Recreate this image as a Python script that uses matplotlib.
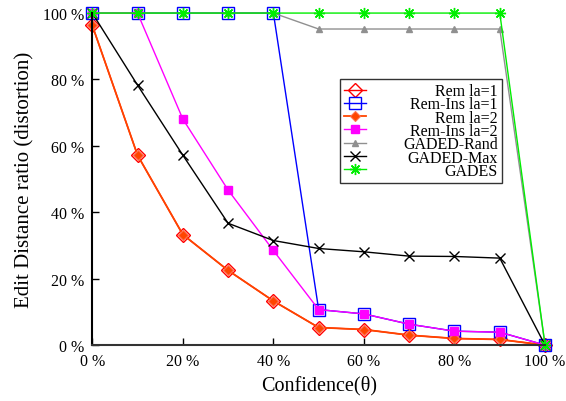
import matplotlib
matplotlib.use("Agg")
import matplotlib.pyplot as plt
from matplotlib.ticker import FuncFormatter

conf = [0, 10, 20, 30, 40, 50, 60, 70, 80, 90, 100]
rem_la1 = [96.3, 57.2, 33.3, 22.5, 13.3, 5.3, 4.7, 3.0, 2.0, 1.7, 0.0]
remins_la1 = [100, 100, 100, 100, 100, 10.7, 9.4, 6.3, 4.2, 3.9, 0.0]
rem_la2 = [96.3, 57.2, 33.3, 22.5, 13.3, 5.3, 4.7, 3.0, 2.0, 1.7, 0.0]
remins_la2 = [100, 100, 68.1, 46.7, 28.5, 10.7, 9.4, 6.3, 4.2, 3.9, 0.0]
gaded_rand = [100, 100, 100, 100, 100, 95.2, 95.2, 95.2, 95.2, 95.2, 0.0]
gaded_max = [100, 78.3, 57.2, 36.7, 31.5, 29.1, 28.1, 26.8, 26.7, 26.2, 0.0]
gades = [100, 100, 100, 100, 100, 100, 100, 100, 100, 100, 0.0]

labels = ["Rem la=1", "Rem-Ins la=1", "Rem la=2", "Rem-Ins la=2",
          "GADED-Rand", "GADED-Max", "GADES"]

plt.rcParams['font.family'] = ['Liberation Serif', 'DejaVu Serif']

fig = plt.figure(figsize=(5.66, 4.02), dpi=100)
ax = fig.add_axes([0.163, 0.139, 0.800, 0.826])

kw = dict(clip_on=False, lw=1.0)
ax.plot(conf, rem_la1, color='#ff0000', marker='D', ms=7, mfc='none', mew=1.0, label=labels[0], **kw)
ax.plot(conf, remins_la1, color='#0000ff', marker='s', ms=8, mfc='none', mew=1.0, label=labels[1], **kw)
ax.plot(conf, rem_la2, color='#ff4500', marker='D', ms=5.5, mfc='#ff4500', mec='#ff7050', mew=0.8, label=labels[2], lw=1.3, clip_on=False)
ax.plot(conf, remins_la2, color='#ff00ff', marker='s', ms=6, mfc='#ff00ff', mec='#ff00ff', label=labels[3], **kw)
ax.plot(conf, gaded_rand, color='#909090', marker='^', ms=5, mfc='#909090', label=labels[4], **kw)
ax.plot(conf, gaded_max, color='#000000', marker='x', ms=7, mew=1.0, label=labels[5], **kw)
ax.plot(conf, gades, color='#00ee00', marker=(8, 2, 0), ms=8, mew=1.0, label=labels[6], **kw)

ax.set_xlim(0, 100)
ax.set_ylim(0, 100)
ax.set_xticks([0, 20, 40, 60, 80, 100])
ax.set_yticks([0, 20, 40, 60, 80, 100])
fmt = FuncFormatter(lambda v, p: "%d %%" % v)
ax.xaxis.set_major_formatter(fmt)
ax.yaxis.set_major_formatter(fmt)
ax.tick_params(direction='in', length=5, width=1, labelsize=11.5, pad=6)

for s in ['top', 'right']:
    ax.spines[s].set_visible(False)
ax.spines['left'].set_linewidth(1.5)
ax.spines['bottom'].set_linewidth(1.5)
ax.spines['bottom'].set_color('#333333')

ax.set_xlabel("Confidence(θ)", fontsize=14.5, labelpad=4)
ax.set_ylabel("Edit Distance ratio (distortion)", fontsize=15, labelpad=6)

leg = ax.legend(loc='upper left', bbox_to_anchor=(0.547, 0.801), fontsize=11.5,
                frameon=True, fancybox=False, edgecolor='#333333', framealpha=1,
                labelspacing=-0.17, handlelength=1.4, handletextpad=2.3,
                borderpad=0.25, borderaxespad=0)
leg.get_frame().set_linewidth(1.0)

fig.canvas.draw()
renderer = fig.canvas.get_renderer()
texts = leg.get_texts()
widths = [t.get_window_extent(renderer).width for t in texts]
maxw = max(widths)
for t, w in zip(texts, widths):
    t.set_position((maxw - w, 0))

fig.savefig("out.png", dpi=100)
